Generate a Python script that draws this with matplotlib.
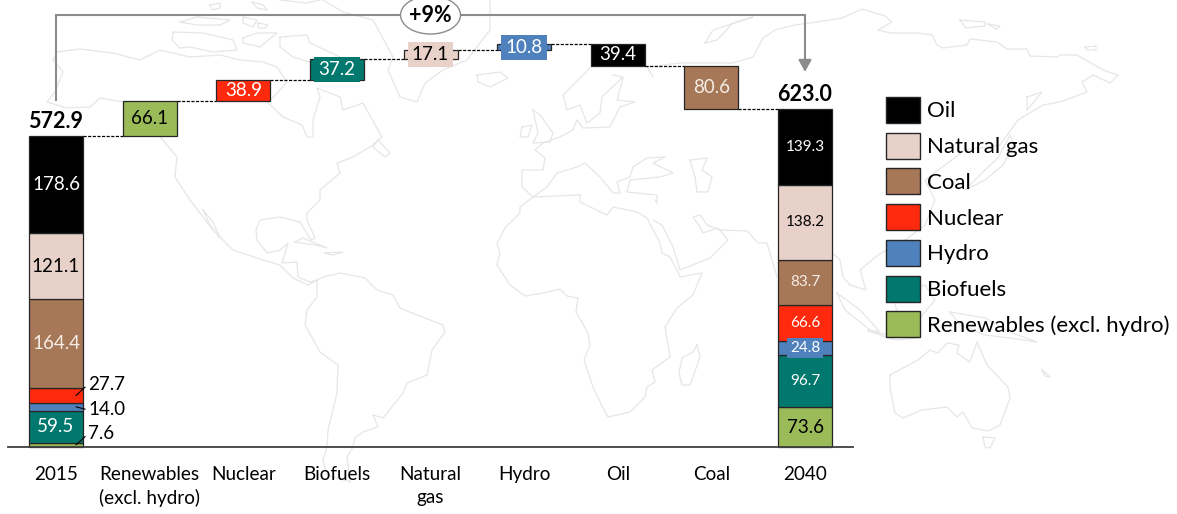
"""
Oil-equivalent supply change 2015 -> 2040 as a waterfall between two stacked bars,
on top of a faint world map.
"""

import numpy as np
import matplotlib
matplotlib.use("Agg")
import matplotlib.pyplot as plt
from matplotlib.patches import Ellipse

plt.rcParams["font.family"] = ["Lato", "DejaVu Sans"]

# --- data ---
categories = ["2015", "Renewables\n(excl. hydro)", "Nuclear", "Biofuels", "Natural\ngas",
              "Hydro", "Oil", "Coal", "2040"]
fuels = ["Renewables (excl. hydro)", "Biofuels", "Hydro", "Nuclear", "Coal", "Natural gas", "Oil"]
values_2015 = [7.6, 59.5, 14.0, 27.7, 164.4, 121.1, 178.6]
values_2040 = [73.6, 96.7, 24.8, 66.6, 83.7, 138.2, 139.3]
step_fuels = ["Renewables (excl. hydro)", "Nuclear", "Biofuels", "Natural gas", "Hydro", "Oil", "Coal"]
step_changes = [66.1, 38.9, 37.2, 17.1, 10.8, -39.4, -80.6]
total_2015 = 572.9
total_2040 = 623.0
growth_label = "+9%"
legend_order = ["Oil", "Natural gas", "Coal", "Nuclear", "Hydro", "Biofuels", "Renewables (excl. hydro)"]

# --- styling ---
colors = {"Oil": "#000000", "Natural gas": "#E8D1C9", "Coal": "#A67858", "Nuclear": "#FF2A0D",
          "Hydro": "#4F81BD", "Biofuels": "#00786E", "Renewables (excl. hydro)": "#9BBB59"}
text_colors = {"Oil": "white", "Natural gas": "black", "Coal": "#F5EDE6", "Nuclear": "white",
               "Hydro": "white", "Biofuels": "white", "Renewables (excl. hydro)": "black"}
EDGE = "#262626"
GREY = "#8C8C8C"

# --- background map, outlines in figure pixels ---
map_outlines = [
    # North and Central America
    [(53,60),(57,52),(80,49),(113,53),(140,60),(160,50),(190,57),(220,55),(240,60),(263,62),(277,67),(287,82),
     (268,103),(283,117),(302,125),(307,137),(313,137),(313,120),(320,97),(317,88),(340,97),(343,110),(363,103),
     (382,137),(370,147),(353,157),(337,163),(340,173),(320,190),(320,200),(307,213),(307,220),(315,238),(311,240),
     (300,222),(280,217),(260,220),(256,230),(257,240),(267,253),(280,250),(288,243),(282,263),(297,262),(298,277),
     (310,282),(317,280),(308,285),(293,278),(280,265),(263,260),(233,250),(213,230),(190,200),(175,177),(177,157),
     (163,140),(123,102),(100,98),(90,107),(67,108),(47,102),(55,92),(63,72),(53,60)],
    [(203,210),(213,222),(220,238),(210,225),(203,210)],
    # South America
    [(317,280),(317,297),(307,310),(305,325),(320,352),(338,365),(337,393),(328,430),(327,447),(323,460),(327,475),
     (350,482),(347,457),(353,447),(355,438),(363,432),(378,427),(373,415),(383,418),(403,393),(407,383),(427,375),
     (432,350),(445,332),(443,325),(417,315),(400,308),(393,295),(377,290),(365,278),(340,273),(323,277),(317,280)],
    # Caribbean
    [(295,242),(303,238),(327,248),(315,245),(295,242)],
    [(325,253),(343,252),(333,255),(325,253)],
    # Arctic islands
    [(280,37),(307,35),(310,43),(340,57),(352,72),(335,72),(313,63),(293,57),(280,47),(280,37)],
    [(173,32),(203,33),(220,37),(233,40),(237,50),(213,52),(190,47),(180,48),(172,40),(173,32)],
    [(180,22),(197,17),(230,20),(220,25),(197,25),(180,22)],
    [(243,38),(257,33),(277,33),(260,47),(243,43),(243,38)],
    [(243,17),(257,20),(253,27),(243,23),(243,17)],
    [(258,23),(268,25),(265,28),(258,28),(258,23)],
    [(210,5),(220,3),(220,8),(212,10),(210,5)],
    [(252,2),(263,5),(267,10),(257,8),(252,2)],
    [(280,0),(307,3),(320,0)],
    # Newfoundland
    [(378,140),(390,153),(385,157),(373,147),(378,140)],
    # Greenland
    [(323,0),(343,12),(373,20),(393,57),(388,70),(400,97),(417,102),(425,83),(443,70),(467,60),(490,30),(490,17),(490,0)],
    # Iceland, Ireland, Britain
    [(477,75),(500,72),(508,78),(490,87),(478,82),(477,75)],
    [(522,127),(532,125),(528,137),(520,137),(522,127)],
    [(533,110),(540,115),(553,133),(550,142),(533,143),(538,133),(533,110)],
    # Europe and Scandinavia
    [(593,65),(563,95),(567,110),(580,105),(587,123),(600,113),(602,97),(623,77),(613,75)],
    [(623,78),(617,100),(635,102),(620,107),(610,127),(583,128),(577,120),(573,130),(560,137),(543,143),(535,150),
     (545,158),(543,170),(522,170),(522,187),(533,197),(547,187),(557,173),(577,167),(585,163),(600,177),(613,193),
     (620,193),(617,182),(630,177),(633,167),(647,158),(665,157),(653,163),(673,173),(660,177),(630,180),(627,192),
     (657,195),(657,203),(655,200)],
    # Africa
    [(580,195),(533,197),(520,207),(520,213),(505,228),(497,243),(500,253),(497,265),(510,285),(525,296),(543,293),
     (560,289),(567,296),(578,298),(576,312),(588,333),(590,345),(584,360),(593,387),(603,408),(608,417),(630,412),
     (645,397),(647,387),(655,382),(652,370),(670,357),(665,327),(677,308),(693,295),(702,273),(680,277),(678,272),
     (670,257),(662,253),(660,243),(647,218),(637,212),(613,207),(607,215),(580,202),(580,195)],
    [(697,345),(700,357),(690,385),(682,385),(679,373),(682,358),(693,352),(697,345)],
    # Arabia and the Indian coast
    [(653,220),(662,225),(673,247),(680,270),(710,258),(728,240),(718,228),(703,233),(700,227),(693,217),(700,215),
     (707,225),(720,230),(747,231),(758,243),(767,243),(777,277)],
    # Caspian
    [(690,160),(707,158),(702,170),(712,177),(708,192),(697,192),(695,177),(690,160)],
    # Russian Arctic and Pacific coast
    [(653,77),(647,67),(680,63),(733,63),(753,57),(763,38),(775,30),(795,25),(830,20),(842,18),(862,9),(885,16),(892,22),
     (878,30),(890,33),(918,33),(932,35),(937,45),(943,48),(967,45),(970,39),(997,42),(1007,49),(1027,49),(1030,56),
     (1057,57),(1060,55),(1077,55),(1103,70),(1118,75),(1110,83),(1093,75),(1082,82),(1087,92),(1060,102),(1043,105),
     (1018,120),(1000,145),(965,150),(945,165),(925,180),(935,200),(925,225),(905,240),(878,255),(860,270),(866,290),
     (850,285),(843,277),(840,260),(832,253)],
    [(705,43),(713,30),(753,17),(733,23),(717,40),(705,43)],
    [(960,20),(985,22),(985,26),(966,28),(960,20)],
    [(988,24),(1000,26),(996,29),(988,24)],
    [(1085,47),(1096,46),(1096,50),(1087,50),(1085,47)],
    # Japan and Sakhalin
    [(985,170),(998,158),(1010,135),(1014,145),(1003,165),(985,180),(965,190),(985,170)],
    [(1027,97),(1042,92),(1033,103),(1027,110),(1027,97)],
    # Island south-east Asia
    [(837,293),(860,310),(880,332),(870,330),(845,310),(837,293)],
    [(868,331),(890,335),(917,338),(895,340),(868,331)],
    [(900,295),(925,285),(935,300),(920,318),(900,320),(895,305),(900,295)],
    [(950,312),(985,318),(1010,332),(1037,342),(1010,338),(985,335),(960,325),(950,312)],
    # Australia and New Zealand
    [(890,375),(918,360),(930,350),(938,353),(947,343),(959,345),(957,353),(970,362),(977,342),(987,365),(1008,387),
     (1010,398),(1000,425),(988,431),(972,428),(963,412),(957,417),(947,407),(922,410),(903,418),(895,413),(890,388),
     (890,375)],
    [(983,437),(995,438),(990,448),(985,447),(983,437)],
    [(1042,370),(1050,377),(1045,376),(1042,370)],
]

W, H = 1177, 514
fig = plt.figure(figsize=(W / 100, H / 100), dpi=100)

bg = fig.add_axes([0, 0, 1, 1])
bg.set_xlim(0, W)
bg.set_ylim(H, 0)
bg.axis("off")
for outline in map_outlines:
    xs, ys = zip(*outline)
    bg.plot(xs, ys, color="#E6E6E6", lw=0.9, solid_joinstyle="round")

# chart axes: one unit on x is a category, baseline sits at pixel row 447
ax = fig.add_axes([0, 0, 1, 1])
ax.patch.set_alpha(0)
px_x = 93.625
px_y = 0.542
ax.set_xlim(-56 / px_x, (W - 56) / px_x)
ax.set_ylim(-(H - 447) / px_y, 447 / px_y)
for s in ax.spines.values():
    s.set_visible(False)
ax.set_yticks([])
x_pos = np.arange(len(categories))
ax.set_xticks(x_pos, categories, fontsize=13.6, linespacing=1.42)
# labels live inside the full-figure axes, so the pad is negative
ax.tick_params(axis="x", length=0, pad=-34.5)
for t in ax.get_xticklabels():
    t.set_verticalalignment("top")

BAR_W = 54 / px_x
BIG = 13.5
SMALL = 11


def stack(x, vals, sizes):
    bottom = 0
    for fuel, v, size in zip(fuels, vals, sizes):
        ax.bar(x, v, BAR_W, bottom=bottom, color=colors[fuel], edgecolor=EDGE, lw=0.9, zorder=3)
        if size:
            box = None
            if fuel == "Hydro":
                box = dict(facecolor=colors[fuel], edgecolor="none", pad=2)
            ax.text(x, bottom + v / 2, f"{v:.1f}", color=text_colors[fuel], fontsize=size,
                    ha="center", va="center", zorder=5, bbox=box)
        bottom += v


stack(0, values_2015, [None, BIG, None, None, BIG, BIG, BIG])
stack(8, values_2040, [BIG, SMALL, SMALL, SMALL, SMALL, SMALL, SMALL])

# small 2015 segments are labelled at the side with a short leader
offsets = {"Renewables (excl. hydro)": (12, 11), "Hydro": (12, -3), "Nuclear": (12, 11)}
bottoms = np.concatenate([[0], np.cumsum(values_2015)[:-1]])
for fuel, (dx, dy) in offsets.items():
    i = fuels.index(fuel)
    ax.annotate(f"{values_2015[i]:.1f}", xy=(20 / px_x, bottoms[i] + values_2015[i] / 2),
                xytext=(dx, dy), textcoords="offset pixels", fontsize=BIG, va="center", ha="left",
                zorder=6, arrowprops=dict(arrowstyle="-", color="black", lw=0.8, shrinkA=0, shrinkB=0,
                                          relpos=(0, 0.5)))

# waterfall steps with dashed connectors
level = total_2015
for i, (fuel, change) in enumerate(zip(step_fuels, step_changes), start=1):
    ax.plot([i - 1 + BAR_W / 2, i - BAR_W / 2], [level, level], color="black", lw=0.9,
            ls=(0, (2.5, 1.2)), zorder=2)
    low = min(level, level + change)
    ax.bar(i, abs(change), BAR_W, bottom=low, color=colors[fuel], edgecolor=EDGE, lw=0.9, zorder=3)
    box = None
    if abs(change) < 40 and fuel in ("Biofuels", "Natural gas", "Hydro"):
        box = dict(facecolor=colors[fuel], edgecolor="none", pad=3)
    ax.text(i, low + abs(change) / 2, f"{abs(change):.1f}", color=text_colors[fuel], fontsize=BIG,
            ha="center", va="center", zorder=5, bbox=box)
    level += change
ax.plot([7 + BAR_W / 2, 8 - BAR_W / 2], [level, level], color="black", lw=0.9, ls=(0, (2.5, 1.2)), zorder=2)

# totals
for x, total in [(0, total_2015), (8, total_2040)]:
    ax.annotate(f"{total:.1f}", xy=(x, total), xytext=(0, 4), textcoords="offset pixels", fontsize=15.5,
                fontweight="bold", ha="center", va="bottom", zorder=5)

# baseline
ax.axhline(0, xmin=8 / W, xmax=853 / W, color="#404040", lw=1.3, zorder=4)

# growth bracket
top = 797
ax.plot([0, 0, 8], [640, top, top], color=GREY, lw=1.5, zorder=2, solid_joinstyle="miter")
ax.annotate("", xy=(8, 692), xytext=(8, top),
            arrowprops=dict(arrowstyle="-|>,head_width=0.3,head_length=0.55", color=GREY, lw=1.5,
                            shrinkA=0, shrinkB=0, mutation_scale=13), zorder=2)
ax.add_patch(Ellipse((4, top), 60 / px_x, 38 / px_y, facecolor="white", edgecolor=GREY, lw=1, zorder=4,
                     clip_on=True))
ax.text(4, top, growth_label, fontsize=15.5, fontweight="bold", ha="center", va="center", zorder=5)

# legend
handles = [plt.Rectangle((0, 0), 1, 1, facecolor=colors[f], edgecolor=EDGE, lw=1) for f in legend_order]
LEG = 16
leg_px = LEG * 100 / 72
ax.legend(handles, legend_order, fontsize=LEG, frameon=False, loc="upper left",
          bbox_to_anchor=(886 / W, 1 - 97 / H), borderaxespad=0, borderpad=0,
          handlelength=34 / leg_px, handleheight=1.425, handletextpad=7 / leg_px,
          labelspacing=(35.7 - 26) / leg_px)

fig.savefig("out.png", dpi=100)
